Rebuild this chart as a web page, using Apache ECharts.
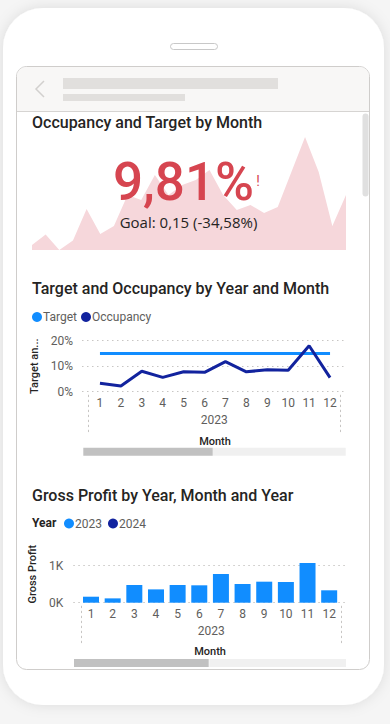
<!DOCTYPE html>
<html>
<head>
<meta charset="utf-8">
<script src="https://cdn.jsdelivr.net/npm/echarts@6/dist/echarts.min.js"></script>
<style>
html,body{margin:0;padding:0;background:#f5f5f5;}
#c{width:390px;height:724px;}
</style>
</head>
<body>
<div id="c"></div>
<script>
// ---------- data ----------
const trendPeriods = ['2023-01','2023-02','2023-03','2023-04','2023-05','2023-06','2023-07','2023-08','2023-09','2023-10','2023-11','2023-12',
                      '2024-01','2024-02','2024-03','2024-04','2024-05','2024-06','2024-07','2024-08','2024-09','2024-10','2024-11','2024-12'];
const trendValues = [5, 15.5, 0, 9.5, 41, 16, 24, 55, 50, 75, 55, 65, 70, 80, 55, 40, 45, 37, 43, 78, 113, 78, 24, 55];
const kpiValueText = '9,81%';
const kpiGoalText = 'Goal: 0,15 (-34,58%)';

const months = ['1','2','3','4','5','6','7','8','9','10','11','12'];
const years = ['2023'];
const targetValues = [15, 15, 15, 15, 15, 15, 15, 15, 15, 15, 15, 15];
const occupancyValues = [3.3, 2.2, 8.0, 5.6, 7.8, 7.6, 11.8, 7.8, 8.6, 8.4, 18.0, 5.5];
const occupancyTicks = [0, 10, 20];

const grossProfit2023 = [162, 117, 478, 360, 478, 470, 775, 505, 568, 560, 1073, 335];
const grossProfit2024 = [];
const profitTicks = [0, 1000];

// ---------- styling ----------
const FONT = 'Roboto, "Noto Sans", sans-serif';
const DARK = '#252423';
const LABEL = '#605E5C';
const GRIDC = '#c8c6c4';
const dotted = { color: GRIDC, type: [1.5, 3.5], width: 1 };
const BLUE = '#118DFF';
const NAVY = '#12239E';

const chart = echarts.init(document.getElementById('c'), null, { renderer: 'svg' });

const frame = [
  { type: 'rect', z: -20, shape: { x: 3, y: 8, width: 381, height: 697, r: 40 },
    style: { fill: '#ffffff', shadowBlur: 14, shadowColor: 'rgba(0,0,0,0.10)' } },
  { type: 'rect', z: -19, shape: { x: 170.5, y: 43.5, width: 47, height: 6, r: 3 },
    style: { fill: '#ffffff', stroke: '#c8c8c8', lineWidth: 1 } },
  { type: 'rect', z: -19, shape: { x: 16.5, y: 66.5, width: 353, height: 603, r: 10 },
    style: { fill: '#ffffff', stroke: '#cfcdcb', lineWidth: 1 } },
  { type: 'rect', z: -18, shape: { x: 17, y: 67, width: 352, height: 44, r: [9, 9, 0, 0] },
    style: { fill: '#f8f7f6' } },
  { type: 'line', z: -18, shape: { x1: 17, y1: 111.5, x2: 369, y2: 111.5 },
    style: { stroke: '#d6d4d2', lineWidth: 1 } },
  { type: 'polyline', z: -17, shape: { points: [[44, 81], [36, 89], [44, 97]] },
    style: { stroke: '#d2d0ce', lineWidth: 1.5, fill: null } },
  { type: 'rect', z: -17, shape: { x: 63, y: 78, width: 215, height: 11 }, style: { fill: '#e1dfdd' } },
  { type: 'rect', z: -17, shape: { x: 63, y: 94, width: 122, height: 7 }, style: { fill: '#e1dfdd' } },
  { type: 'rect', z: -17, shape: { x: 362.5, y: 113.5, width: 6, height: 83, r: 3 }, style: { fill: '#e0e0e0' } },
  // chart 2 scroll bar
  { type: 'rect', z: -17, shape: { x: 212.7, y: 447.7, width: 133, height: 8 }, style: { fill: '#f0f0f0' } },
  { type: 'rect', z: -17, shape: { x: 83.3, y: 447.7, width: 129.4, height: 8 }, style: { fill: '#c1c1c1' } },
  // chart 3 scroll bar
  { type: 'rect', z: -17, shape: { x: 209.3, y: 659, width: 136.7, height: 8 }, style: { fill: '#f0f0f0' } },
  { type: 'rect', z: -17, shape: { x: 74, y: 659, width: 134.7, height: 8 }, style: { fill: '#c1c1c1' } },
  // KPI texts
  { type: 'text', z: 50, x: 183.5, y: 182, style: { text: kpiValueText, fill: '#d64550',
      font: '500 53px ' + FONT, lineHeight: 44, align: 'center', verticalAlign: 'middle' } },
  { type: 'text', z: 50, x: 258, y: 181, style: { text: '!', fill: '#d64550',
      font: '400 14px ' + FONT, lineHeight: 14, align: 'center', verticalAlign: 'middle' } },
  { type: 'text', z: 50, x: 188.5, y: 222, style: { text: kpiGoalText, fill: DARK,
      font: '400 15px "Open Sans", sans-serif', lineHeight: 14, align: 'center', verticalAlign: 'middle' } }
];

const titleStyle = { fontSize: 16, fontWeight: 500, color: DARK, fontFamily: FONT };
const nameStyle = { fontSize: 11, fontWeight: 500, color: DARK, fontFamily: FONT };
const labelStyle = { fontSize: 12, color: LABEL, fontFamily: FONT };

const option = {
  animation: false,
  textStyle: { fontFamily: FONT },
  graphic: { elements: frame },
  title: [
    { text: 'Occupancy and Target by Month', left: 32, top: 114, padding: 0, textStyle: titleStyle },
    { text: 'Target and Occupancy by Year and Month', left: 32, top: 280, padding: 0, textStyle: titleStyle },
    { text: 'Gross Profit by Year, Month and Year', left: 32, top: 487, padding: 0, textStyle: titleStyle },
    { text: 'Year', left: 32, top: 517, padding: 0, textStyle: { fontSize: 12, fontWeight: 'bold', color: DARK, fontFamily: FONT } }
  ],
  legend: [
    { data: ['Target', 'Occupancy'], left: 32, top: 311, padding: 0, icon: 'circle', itemWidth: 10, itemHeight: 10,
      itemGap: 4, textStyle: Object.assign({ padding: [0, 0, 0, -4] }, labelStyle) },
    { data: ['2023', '2024'], left: 64, top: 517.5, padding: 0, icon: 'circle', itemWidth: 10, itemHeight: 10,
      itemGap: 6, textStyle: Object.assign({ padding: [0, 0, 0, -4] }, labelStyle) }
  ],
  grid: [
    { left: 32, top: 137, width: 314, height: 113 },
    { left: 82, top: 340.7, width: 263, height: 51 },
    { left: 89.5, top: 340.7, width: 251, height: 51 },
    { left: 88.3, top: 391.7, width: 251.7, height: 40 },
    { left: 73.3, top: 565.7, width: 271.7, height: 37 },
    { left: 80.2, top: 565.7, width: 259.8, height: 37 },
    { left: 81, top: 602.7, width: 260.7, height: 40 }
  ],
  xAxis: [
    { gridIndex: 0, type: 'category', data: trendPeriods, boundaryGap: false, show: false },
    { gridIndex: 1, type: 'value', show: false },
    { gridIndex: 2, type: 'category', data: months, axisLine: { show: false }, axisTick: { show: false },
      axisLabel: Object.assign({ margin: 5 }, labelStyle),
      name: 'Month', nameLocation: 'middle', nameGap: 44, nameTextStyle: nameStyle },
    { gridIndex: 3, type: 'category', data: years, position: 'top', axisLine: { show: false }, axisTick: { show: false },
      axisLabel: Object.assign({ inside: true, margin: 22 }, labelStyle) },
    { gridIndex: 4, type: 'value', show: false },
    { gridIndex: 5, type: 'category', data: months, axisLine: { show: false }, axisTick: { show: false },
      axisLabel: Object.assign({ margin: 5.5 }, labelStyle),
      name: 'Month', nameLocation: 'middle', nameGap: 43.6, nameTextStyle: nameStyle },
    { gridIndex: 6, type: 'category', data: years, position: 'top', axisLine: { show: false }, axisTick: { show: false },
      axisLabel: Object.assign({ inside: true, margin: 22 }, labelStyle) }
  ],
  yAxis: [
    { gridIndex: 0, type: 'value', min: 0, max: 113, show: false },
    { gridIndex: 1, type: 'value', min: occupancyTicks[0], max: occupancyTicks[2], interval: occupancyTicks[1],
      axisLine: { show: false }, axisTick: { show: false },
      axisLabel: Object.assign({ margin: 9, formatter: '{value}%' }, labelStyle),
      splitLine: { show: true, lineStyle: dotted },
      name: 'Target an...', nameLocation: 'middle', nameRotate: 90, nameGap: 38.7, nameTextStyle: nameStyle },
    { gridIndex: 2, type: 'value', min: occupancyTicks[0], max: occupancyTicks[2], show: false },
    { gridIndex: 3, type: 'value', position: 'left', min: 0, max: 1, axisLine: { show: true, lineStyle: dotted },
      axisLabel: { show: false }, axisTick: { show: false }, splitLine: { show: false } },
    { gridIndex: 3, type: 'value', position: 'right', min: 0, max: 1, axisLine: { show: true, lineStyle: dotted },
      axisLabel: { show: false }, axisTick: { show: false }, splitLine: { show: false } },
    { gridIndex: 4, type: 'value', min: profitTicks[0], max: profitTicks[1], interval: profitTicks[1],
      axisLine: { show: false }, axisTick: { show: false },
      axisLabel: Object.assign({ margin: 10, formatter: v => (v / 1000) + 'K' }, labelStyle),
      splitLine: { show: true, lineStyle: dotted },
      name: 'Gross Profit', nameLocation: 'middle', nameRotate: 90, nameGap: 30.6,
      nameTextStyle: Object.assign({ padding: [0, 0, 0, 20] }, nameStyle) },
    { gridIndex: 5, type: 'value', min: profitTicks[0], max: profitTicks[1], show: false },
    { gridIndex: 6, type: 'value', position: 'left', min: 0, max: 1, axisLine: { show: true, lineStyle: dotted },
      axisLabel: { show: false }, axisTick: { show: false }, splitLine: { show: false } },
    { gridIndex: 6, type: 'value', position: 'right', min: 0, max: 1, axisLine: { show: true, lineStyle: dotted },
      axisLabel: { show: false }, axisTick: { show: false }, splitLine: { show: false } }
  ],
  series: [
    { name: 'trend', type: 'line', xAxisIndex: 0, yAxisIndex: 0, data: trendValues, symbol: 'none', silent: true,
      lineStyle: { width: 0 }, areaStyle: { color: '#f6d7db', opacity: 1 }, z: 1 },
    { name: 'Target', type: 'line', xAxisIndex: 2, yAxisIndex: 2, data: targetValues, symbol: 'none',
      color: BLUE, lineStyle: { width: 3, color: BLUE } },
    { name: 'Occupancy', type: 'line', xAxisIndex: 2, yAxisIndex: 2, data: occupancyValues, symbol: 'none',
      color: NAVY, lineStyle: { width: 3, color: NAVY } },
    { name: '2023', type: 'bar', xAxisIndex: 5, yAxisIndex: 6, data: grossProfit2023, barWidth: 16, barGap: '-100%',
      clip: false, color: BLUE, itemStyle: { color: BLUE } },
    { name: '2024', type: 'bar', xAxisIndex: 5, yAxisIndex: 6, data: grossProfit2024, barWidth: 16, barGap: '-100%',
      clip: false, color: NAVY, itemStyle: { color: NAVY } }
  ]
};
chart.setOption(option);
</script>
</body>
</html>
